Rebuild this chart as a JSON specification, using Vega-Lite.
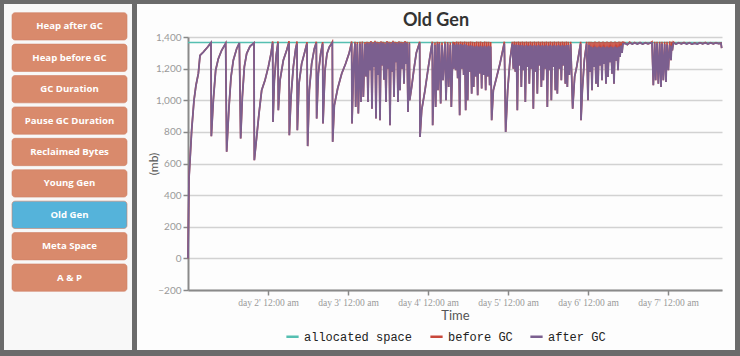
{
  "$schema": "https://vega.github.io/schema/vega-lite/v6.json",
  "background": "#6b6b6b",
  "padding": {"left": 4, "top": 4, "right": 5, "bottom": 6},
  "spacing": 5,
  "config": {"view": {"stroke": null}, "font": "Lato"},
  "resolve": {"scale": {"x": "independent", "y": "independent", "color": "independent"}, "legend": {"color": "independent"}},
  "hconcat": [
    {
      "width": 128,
      "height": 346,
      "view": {"fill": "#f8f8f8", "stroke": null},
      "data": {"values": [
        {"name": "Heap after GC", "active": "no"},
        {"name": "Heap before GC", "active": "no"},
        {"name": "GC Duration", "active": "no"},
        {"name": "Pause GC Duration", "active": "no"},
        {"name": "Reclaimed Bytes", "active": "no"},
        {"name": "Young Gen", "active": "no"},
        {"name": "Old Gen", "active": "yes"},
        {"name": "Meta Space", "active": "no"},
        {"name": "A & P", "active": "no"}
      ]},
      "encoding": {
        "y": {"field": "name", "type": "nominal", "sort": null, "axis": null,
              "scale": {"range": [8.7, 287.3], "paddingInner": 0.13, "paddingOuter": 0}}
      },
      "layer": [
        {
          "mark": {"type": "bar", "cornerRadius": 3, "stroke": "#cf8064", "strokeWidth": 0.6},
          "encoding": {
            "x": {"datum": 0, "type": "quantitative", "scale": {"domain": [-0.0696, 1.0434], "nice": false, "zero": false}, "axis": null},
            "x2": {"datum": 1},
            "color": {"field": "active", "type": "nominal", "scale": {"domain": ["no", "yes"], "range": ["#d98a6c", "#55b3da"]}, "legend": null}
          }
        },
        {
          "mark": {"type": "text", "color": "#ffffff", "font": "Open Sans", "fontWeight": "bold", "fontSize": 9.6},
          "encoding": {
            "x": {"datum": 0.5, "type": "quantitative"},
            "text": {"field": "name"}
          }
        }
      ]
    },
    {
      "width": 598,
      "height": 346,
      "view": {"fill": "#fdfdfd", "stroke": null},
      "title": {"text": "Old Gen", "fontSize": 18, "font": "Lato", "fontWeight": "bold", "color": "#333333", "anchor": "middle", "offset": -26},
      "data": {"values": [
{"h":0,"a":0,"b":0},{"h":0.3,"a":505,"b":505},{"h":1.1,"a":811,"b":811},{"h":1.8,"a":1000,"b":1000},{"h":2.4,"a":1095,"b":1095},{"h":3.1,"a":1168,"b":1168},{"h":3.6,"a":1284,"b":1284},{"h":4.6,"a":1305,"b":1305},{"h":5.9,"a":1337,"b":1337},{"h":6.9,"a":1364,"b":1364},
{"h":7.0,"a":773,"b":773},{"h":7.6,"a":1000,"b":1000},{"h":8.3,"a":1190,"b":1190},{"h":9.1,"a":1263,"b":1263},{"h":10.1,"a":1316,"b":1316},{"h":11.3,"a":1360,"b":1360},
{"h":11.6,"a":674,"b":674},{"h":12.3,"a":958,"b":958},{"h":12.9,"a":1147,"b":1147},{"h":13.6,"a":1253,"b":1253},{"h":14.6,"a":1326,"b":1326},{"h":15.4,"a":1362,"b":1362},
{"h":15.8,"a":758,"b":758},{"h":16.3,"a":1021,"b":1021},{"h":16.9,"a":1211,"b":1211},{"h":17.6,"a":1295,"b":1295},{"h":18.6,"a":1341,"b":1341},{"h":19.8,"a":1362,"b":1362},
{"h":19.9,"a":621,"b":621},{"h":20.6,"a":768,"b":768},{"h":21.3,"a":916,"b":916},{"h":22.1,"a":1063,"b":1063},{"h":23.1,"a":1126,"b":1126},{"h":24.1,"a":1211,"b":1211},{"h":24.9,"a":1295,"b":1295},{"h":25.4,"a":1362,"b":1372},
{"h":25.5,"a":863,"b":863},{"h":25.9,"a":1126,"b":1126},{"h":26.5,"a":1290,"b":1290},{"h":27.0,"a":1362,"b":1372},
{"h":27.1,"a":937,"b":937},{"h":27.6,"a":1126,"b":1126},{"h":28.6,"a":1253,"b":1253},{"h":29.6,"a":1316,"b":1316},{"h":30.3,"a":1362,"b":1374},
{"h":30.4,"a":779,"b":779},{"h":30.9,"a":1021,"b":1021},{"h":31.6,"a":1211,"b":1211},{"h":32.3,"a":1326,"b":1326},{"h":32.7,"a":1358,"b":1372},
{"h":32.8,"a":811,"b":811},{"h":33.3,"a":1105,"b":1105},{"h":34.1,"a":1232,"b":1232},{"h":34.9,"a":1295,"b":1295},{"h":35.7,"a":1358,"b":1368},
{"h":35.9,"a":710,"b":710},{"h":36.4,"a":1063,"b":1063},{"h":37.1,"a":1232,"b":1232},{"h":37.9,"a":1326,"b":1326},{"h":38.5,"a":1360,"b":1370},
{"h":38.6,"a":884,"b":884},{"h":39.1,"a":1168,"b":1168},{"h":39.8,"a":1295,"b":1295},{"h":40.4,"a":1358,"b":1368},
{"h":40.5,"a":853,"b":853},{"h":41.1,"a":1190,"b":1190},{"h":41.7,"a":1295,"b":1295},{"h":42.4,"a":1337,"b":1337},{"h":43.3,"a":1362,"b":1370},
{"h":43.4,"a":737,"b":737},{"h":43.9,"a":968,"b":968},{"h":44.9,"a":1074,"b":1074},{"h":46.1,"a":1168,"b":1168},{"h":47.3,"a":1232,"b":1232},{"h":48.3,"a":1295,"b":1295},{"h":49.1,"a":1360,"b":1372},
{"h":49.2,"a":853,"b":853},{"h":49.7,"a":1232,"b":1232},{"h":50.1,"a":1360,"b":1370},{"h":50.3,"a":958,"b":958},{"h":50.8,"a":1355,"b":1368},{"h":51.1,"a":916,"b":916},{"h":51.6,"a":1358,"b":1370},{"h":51.9,"a":989,"b":989},{"h":52.3,"a":1360,"b":1372},{"h":52.6,"a":1021,"b":1021},{"h":53.1,"a":1355,"b":1368},
{"h":53.4,"a":1150,"b":1150},{"h":53.7,"a":1362,"b":1370},{"h":54.0,"a":989,"b":989},{"h":54.3,"a":1360,"b":1368},{"h":54.6,"a":1190,"b":1190},{"h":54.9,"a":1366,"b":1374},{"h":55.2,"a":947,"b":947},{"h":55.5,"a":1360,"b":1368},{"h":55.8,"a":1210,"b":1210},{"h":56.1,"a":1368,"b":1376},
{"h":56.4,"a":884,"b":884},{"h":56.7,"a":1362,"b":1370},{"h":57.0,"a":1160,"b":1160},{"h":57.3,"a":1360,"b":1368},{"h":57.6,"a":874,"b":874},{"h":57.9,"a":1365,"b":1373},{"h":58.2,"a":1220,"b":1220},{"h":58.5,"a":1362,"b":1370},{"h":58.8,"a":1130,"b":1130},{"h":59.1,"a":1358,"b":1366},
{"h":59.4,"a":989,"b":989},{"h":59.7,"a":1366,"b":1374},{"h":60.0,"a":1200,"b":1200},{"h":60.3,"a":1362,"b":1370},{"h":60.6,"a":842,"b":842},{"h":60.9,"a":1360,"b":1368},{"h":61.2,"a":1180,"b":1180},{"h":61.5,"a":1368,"b":1376},{"h":61.8,"a":1021,"b":1021},{"h":62.1,"a":1362,"b":1370},
{"h":62.4,"a":1240,"b":1240},{"h":62.7,"a":1360,"b":1368},{"h":63.0,"a":989,"b":989},{"h":63.3,"a":1365,"b":1373},{"h":63.6,"a":1063,"b":1063},{"h":63.9,"a":1362,"b":1370},{"h":64.2,"a":1200,"b":1200},{"h":64.5,"a":1360,"b":1368},{"h":64.8,"a":1105,"b":1105},{"h":65.1,"a":1366,"b":1374},
{"h":65.4,"a":1230,"b":1230},{"h":65.7,"a":1362,"b":1370},{"h":66.0,"a":926,"b":926},{"h":66.4,"a":1358,"b":1366},{"h":66.5,"a":1000,"b":1000},{"h":67.1,"a":1084,"b":1084},{"h":67.8,"a":1200,"b":1200},{"h":68.5,"a":1300,"b":1300},{"h":69.5,"a":1362,"b":1370},
{"h":69.6,"a":768,"b":768},{"h":70.1,"a":937,"b":937},{"h":71.1,"a":1063,"b":1063},{"h":72.1,"a":1210,"b":1210},{"h":73.1,"a":1347,"b":1347},{"h":73.3,"a":1360,"b":1370},
{"h":73.4,"a":842,"b":842},{"h":74.1,"a":1350,"b":1366},{"h":74.3,"a":958,"b":958},{"h":74.8,"a":1358,"b":1370},{"h":75.0,"a":1063,"b":1063},{"h":75.4,"a":1358,"b":1368},{"h":75.8,"a":979,"b":979},{"h":76.2,"a":1350,"b":1366},{"h":76.5,"a":1126,"b":1126},{"h":77.1,"a":1358,"b":1370},
{"h":77.4,"a":1000,"b":1000},{"h":77.9,"a":1358,"b":1368},{"h":78.2,"a":1084,"b":1084},{"h":78.7,"a":1350,"b":1366},{"h":79.0,"a":958,"b":958},{"h":79.5,"a":1358,"b":1370},{"h":79.7,"a":1200,"b":1200},{"h":80.0,"a":1350,"b":1368},
{"h":80.3,"a":1190,"b":1190},{"h":80.6,"a":1358,"b":1372},{"h":80.9,"a":1140,"b":1140},{"h":81.2,"a":1352,"b":1370},{"h":81.5,"a":905,"b":905},{"h":81.8,"a":1355,"b":1372},{"h":82.1,"a":1200,"b":1200},{"h":82.4,"a":1350,"b":1370},{"h":82.7,"a":1160,"b":1160},{"h":83.0,"a":1355,"b":1372},
{"h":83.3,"a":937,"b":937},{"h":83.6,"a":1350,"b":1370},{"h":83.9,"a":1000,"b":1000},{"h":84.2,"a":1345,"b":1370},{"h":84.5,"a":1180,"b":1180},{"h":84.8,"a":1348,"b":1372},{"h":85.1,"a":1042,"b":1042},{"h":85.4,"a":1345,"b":1370},{"h":85.7,"a":1084,"b":1084},{"h":86.0,"a":1340,"b":1368},
{"h":86.3,"a":1150,"b":1150},{"h":86.6,"a":1345,"b":1372},{"h":86.9,"a":1032,"b":1032},{"h":87.2,"a":1340,"b":1370},{"h":87.5,"a":1170,"b":1170},{"h":87.8,"a":1345,"b":1372},{"h":88.1,"a":1074,"b":1074},{"h":88.4,"a":1340,"b":1368},{"h":88.7,"a":1160,"b":1160},{"h":89.0,"a":1345,"b":1372},
{"h":89.3,"a":1063,"b":1063},{"h":89.6,"a":1340,"b":1370},{"h":89.9,"a":1150,"b":1150},{"h":90.2,"a":1345,"b":1370},{"h":90.5,"a":1095,"b":1095},{"h":90.8,"a":1340,"b":1368},
{"h":91.1,"a":874,"b":874},{"h":91.6,"a":1063,"b":1063},{"h":92.6,"a":1147,"b":1147},{"h":93.6,"a":1232,"b":1232},{"h":94.9,"a":1358,"b":1370},
{"h":95.3,"a":800,"b":800},{"h":95.9,"a":1063,"b":1063},{"h":96.6,"a":1253,"b":1253},{"h":97.3,"a":1358,"b":1370},
{"h":97.6,"a":1200,"b":1200},{"h":97.9,"a":1350,"b":1372},{"h":98.2,"a":1180,"b":1180},{"h":98.5,"a":1352,"b":1370},{"h":98.8,"a":937,"b":937},{"h":99.1,"a":1350,"b":1372},{"h":99.4,"a":1220,"b":1220},{"h":99.7,"a":1348,"b":1370},{"h":100.0,"a":1084,"b":1084},{"h":100.3,"a":1350,"b":1372},
{"h":100.6,"a":1190,"b":1190},{"h":100.9,"a":1345,"b":1370},{"h":101.2,"a":989,"b":989},{"h":101.5,"a":1350,"b":1372},{"h":101.8,"a":1210,"b":1210},{"h":102.1,"a":1345,"b":1370},{"h":102.4,"a":1105,"b":1105},{"h":102.7,"a":1350,"b":1372},{"h":103.0,"a":1200,"b":1200},{"h":103.3,"a":1345,"b":1370},
{"h":103.6,"a":947,"b":947},{"h":103.9,"a":1350,"b":1372},{"h":104.2,"a":1180,"b":1180},{"h":104.5,"a":1345,"b":1370},{"h":104.8,"a":1042,"b":1042},{"h":105.1,"a":1350,"b":1372},{"h":105.4,"a":1220,"b":1220},{"h":105.7,"a":1345,"b":1370},{"h":106.0,"a":1084,"b":1084},{"h":106.3,"a":1350,"b":1372},
{"h":106.6,"a":1126,"b":1126},{"h":106.9,"a":1345,"b":1370},{"h":107.2,"a":1200,"b":1200},{"h":107.5,"a":1350,"b":1372},{"h":107.8,"a":958,"b":958},{"h":108.1,"a":1345,"b":1370},{"h":108.4,"a":1190,"b":1190},{"h":108.7,"a":1350,"b":1372},{"h":109.0,"a":1000,"b":1000},{"h":109.3,"a":1345,"b":1370},
{"h":109.6,"a":1210,"b":1210},{"h":109.9,"a":1350,"b":1372},{"h":110.2,"a":1063,"b":1063},{"h":110.5,"a":1345,"b":1370},{"h":110.8,"a":1042,"b":1042},{"h":111.1,"a":1350,"b":1372},{"h":111.4,"a":1200,"b":1200},{"h":111.7,"a":1345,"b":1370},{"h":112.0,"a":1126,"b":1126},{"h":112.3,"a":1350,"b":1372},
{"h":112.6,"a":1220,"b":1220},{"h":112.9,"a":1345,"b":1370},{"h":113.2,"a":1105,"b":1105},{"h":113.5,"a":1350,"b":1372},{"h":113.8,"a":1084,"b":1084},{"h":114.1,"a":1350,"b":1370},{"h":114.4,"a":1160,"b":1160},{"h":114.8,"a":1355,"b":1370},
{"h":115.4,"a":947,"b":947},{"h":116.0,"a":1150,"b":1150},{"h":116.6,"a":1211,"b":1211},{"h":117.6,"a":1337,"b":1337},{"h":117.8,"a":1358,"b":1370},
{"h":117.9,"a":874,"b":874},{"h":118.3,"a":1063,"b":1063},{"h":118.9,"a":1253,"b":1253},{"h":119.6,"a":1358,"b":1370},{"h":120.0,"a":1000,"b":1000},{"h":120.3,"a":1350,"b":1370},
{"h":120.6,"a":1180,"b":1180},{"h":120.9,"a":1340,"b":1370},{"h":121.2,"a":1063,"b":1063},{"h":121.5,"a":1335,"b":1368},{"h":121.8,"a":1210,"b":1210},{"h":122.1,"a":1340,"b":1372},{"h":122.4,"a":1105,"b":1105},{"h":122.7,"a":1335,"b":1368},{"h":123.0,"a":1084,"b":1084},{"h":123.3,"a":1340,"b":1372},
{"h":123.6,"a":1220,"b":1220},{"h":123.9,"a":1335,"b":1368},{"h":124.2,"a":1126,"b":1126},{"h":124.5,"a":1340,"b":1372},{"h":124.8,"a":1230,"b":1230},{"h":125.1,"a":1335,"b":1368},{"h":125.4,"a":1105,"b":1105},{"h":125.7,"a":1340,"b":1372},{"h":126.0,"a":1147,"b":1147},{"h":126.3,"a":1335,"b":1368},
{"h":126.6,"a":1240,"b":1240},{"h":126.9,"a":1340,"b":1372},{"h":127.2,"a":1168,"b":1168},{"h":127.5,"a":1335,"b":1368},{"h":127.8,"a":1105,"b":1105},{"h":128.1,"a":1340,"b":1372},{"h":128.4,"a":1250,"b":1250},{"h":128.7,"a":1335,"b":1368},{"h":129.0,"a":1190,"b":1190},{"h":129.3,"a":1340,"b":1372},
{"h":129.6,"a":1274,"b":1274},{"h":129.9,"a":1345,"b":1370},{"h":130.2,"a":1300,"b":1300},{"h":130.5,"a":1358,"b":1368},
{"h":131.0,"a":1360,"b":1364},{"h":131.8,"a":1352,"b":1352},{"h":132.5,"a":1362,"b":1368},{"h":133.3,"a":1355,"b":1355},{"h":134.0,"a":1362,"b":1366},{"h":134.8,"a":1356,"b":1356},{"h":135.6,"a":1363,"b":1366},{"h":136.4,"a":1355,"b":1355},{"h":137.2,"a":1362,"b":1365},{"h":138.0,"a":1357,"b":1357},{"h":138.7,"a":1362,"b":1362},
{"h":139.2,"a":1362,"b":1370},{"h":139.6,"a":1095,"b":1095},{"h":140.0,"a":1360,"b":1370},{"h":140.3,"a":1126,"b":1126},{"h":140.7,"a":1360,"b":1370},{"h":141.1,"a":1105,"b":1105},{"h":141.5,"a":1358,"b":1370},{"h":141.9,"a":1084,"b":1084},{"h":142.2,"a":1358,"b":1370},{"h":142.6,"a":1126,"b":1126},
{"h":143.0,"a":1355,"b":1370},{"h":143.4,"a":1116,"b":1116},{"h":143.7,"a":1352,"b":1370},{"h":144.1,"a":1190,"b":1190},{"h":144.5,"a":1350,"b":1372},{"h":144.9,"a":1253,"b":1253},{"h":145.1,"a":1345,"b":1370},{"h":145.3,"a":1316,"b":1316},{"h":145.6,"a":1362,"b":1368},
{"h":146.4,"a":1355,"b":1355},{"h":147.2,"a":1362,"b":1365},{"h":148.0,"a":1357,"b":1357},{"h":148.8,"a":1363,"b":1366},{"h":149.6,"a":1356,"b":1356},{"h":150.4,"a":1362,"b":1364},{"h":151.2,"a":1355,"b":1355},{"h":152.0,"a":1360,"b":1363},{"h":152.8,"a":1356,"b":1356},{"h":153.6,"a":1362,"b":1365},
{"h":154.4,"a":1357,"b":1357},{"h":155.2,"a":1363,"b":1366},{"h":156.0,"a":1356,"b":1356},{"h":156.8,"a":1362,"b":1364},{"h":157.6,"a":1357,"b":1357},{"h":158.4,"a":1362,"b":1365},{"h":159.2,"a":1358,"b":1358},{"h":159.9,"a":1360,"b":1362},{"h":160.1,"a":1330,"b":1330}
      ]},
      "encoding": {
        "x": {
          "field": "h", "type": "quantitative",
          "scale": {"domain": [0, 160.2], "range": [51, 585], "nice": false, "zero": false},
          "title": "Time",
          "axis": {
            "offset": -60,
            "values": [24, 48, 72, 96, 120, 144],
            "labelExpr": "'day ' + (datum.value / 24 + 1) + \"' 12:00 am\"",
            "grid": false,
            "labelFont": "Liberation Serif", "labelFontSize": 9.5, "labelColor": "#9a9a9a", "labelPadding": 2,
            "tickColor": "#888888", "tickSize": 5, "tickWidth": 1.5,
            "domainColor": "#8a8a8a", "domainWidth": 2,
            "titleFont": "Lato", "titleFontSize": 13, "titleFontWeight": "normal", "titleColor": "#555555", "titlePadding": 3
          }
        }
      },
      "layer": [
        {
          "data": {"values": [{"h": 0, "v": 1365}, {"h": 160.2, "v": 1365}]},
          "mark": {"type": "line", "strokeWidth": 1.5},
          "encoding": {
            "y": {
              "field": "v", "type": "quantitative",
              "scale": {"domain": [-200, 1400], "range": [286, 33], "nice": false, "zero": false},
              "title": "(mb)",
              "axis": {
                "offset": -51,
                "values": [-200, 0, 200, 400, 600, 800, 1000, 1200, 1400],
                "format": ",.0f",
                "labelFont": "Lato", "labelFontSize": 10, "labelColor": "#9a9a9a", "labelPadding": 2,
                "tickColor": "#888888", "tickSize": 5, "tickWidth": 1.5,
                "domainColor": "#8a8a8a", "domainWidth": 2,
                "gridColor": "#d2d2d2", "gridWidth": 1.5,
                "titleFont": "Lato", "titleFontSize": 12, "titleFontWeight": "normal", "titleColor": "#555555", "titlePadding": -5
              }
            },
            "color": {
              "datum": "allocated space",
              "scale": {"domain": ["allocated space", "before GC", "after GC"], "range": ["#55bfb1", "#c8473a", "#7b5f8f"]},
              "legend": {
                "orient": "none", "legendX": 148, "legendY": 325,
                "title": null, "direction": "horizontal",
                "symbolType": "stroke", "symbolStrokeWidth": 2.5, "symbolSize": 150,
                "labelFont": "Liberation Mono", "labelFontSize": 12, "labelColor": "#222222",
                "columnPadding": 12, "labelOffset": 4
              }
            }
          }
        },
        {
          "mark": {"type": "line", "strokeWidth": 1.6},
          "encoding": {
            "y": {"field": "b", "type": "quantitative", "title": "(mb)"},
            "color": {"datum": "before GC"}
          }
        },
        {
          "mark": {"type": "line", "strokeWidth": 1.8},
          "encoding": {
            "y": {"field": "a", "type": "quantitative", "title": "(mb)"},
            "color": {"datum": "after GC"}
          }
        }
      ]
    }
  ]
}
